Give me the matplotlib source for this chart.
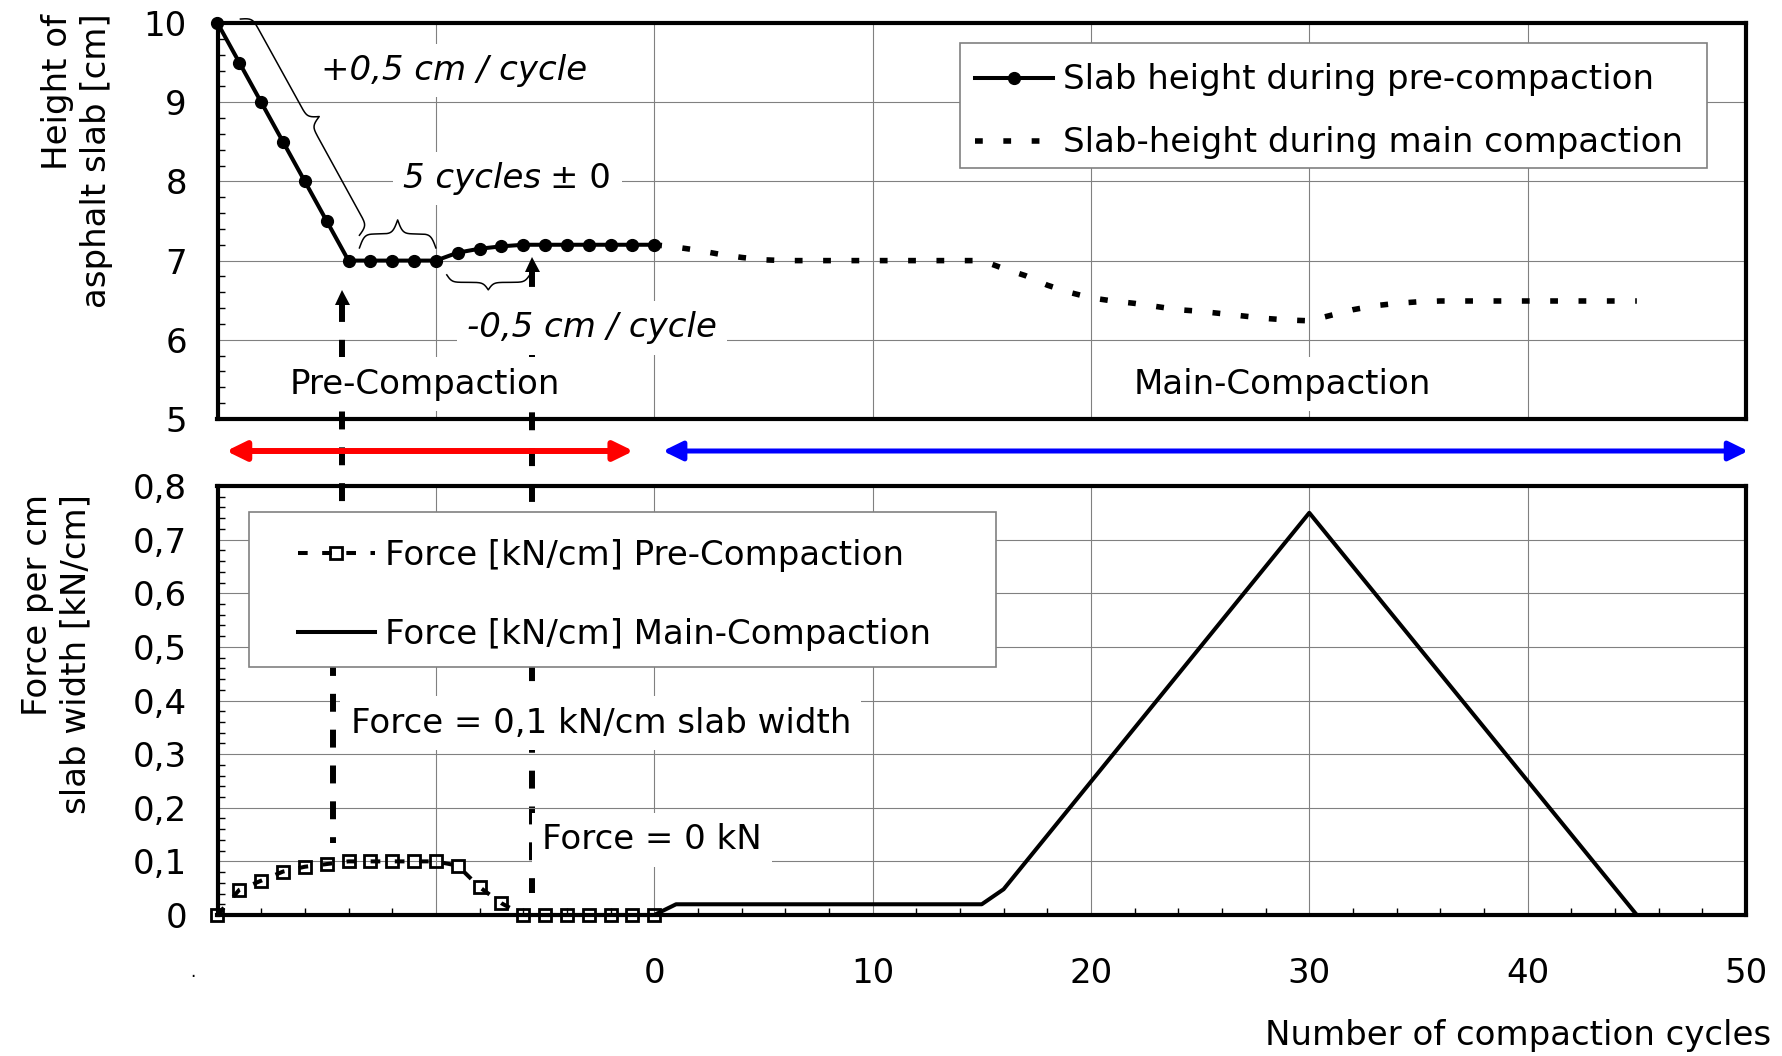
import matplotlib
matplotlib.use("Agg")
import matplotlib.pyplot as plt
import numpy as np
from matplotlib.patches import Rectangle
from matplotlib.ticker import MultipleLocator, FuncFormatter

# ---- values ----
PRE_CYCLES = list(range(-20, 1))
PRE_HEIGHT = [10.0, 9.5, 9.0, 8.5, 8.0, 7.5, 7.0, 7.0, 7.0, 7.0, 7.0,
              7.1, 7.15, 7.18, 7.2, 7.2, 7.2, 7.2, 7.2, 7.2, 7.2]
PRE_FORCE = [0.0, 0.047, 0.064, 0.081, 0.09, 0.095, 0.1, 0.1, 0.1, 0.1, 0.1,
             0.092, 0.052, 0.022, 0.0, 0.0, 0.0, 0.0, 0.0, 0.0, 0.0]

MAIN_CYCLES = list(range(0, 46))
MAIN_HEIGHT = [7.2, 7.17, 7.13, 7.08, 7.04, 7.01, 7.0, 7.0, 7.0, 7.0, 7.0, 7.0, 7.0, 7.0, 7.0, 7.0,
               6.9, 6.81, 6.69, 6.6, 6.53, 6.49, 6.46, 6.42, 6.38, 6.36, 6.33, 6.3, 6.27, 6.25, 6.24,
               6.31, 6.38, 6.43, 6.46, 6.48, 6.49, 6.49, 6.49, 6.49, 6.49, 6.49, 6.49, 6.49, 6.49, 6.49]
MAIN_FORCE_X = [0, 1, 15, 16, 30, 45]
MAIN_FORCE = [0.0, 0.02, 0.02, 0.048, 0.75, 0.0]

X_TICKS = list(range(-20, 51, 10))
H_TICKS = [5, 6, 7, 8, 9, 10]
F_TICKS = [0.0, 0.1, 0.2, 0.3, 0.4, 0.5, 0.6, 0.7, 0.8]

FS = 24.5
W, H = 1782, 1056
plt.rcParams.update({"font.family": "DejaVu Sans", "font.size": FS})


def fx(px):
    return px / W


def fy(py):
    return 1 - py / H


def brace(ax, p0, p1, depth, beta=0.4, lw=1.1):
    """curly brace between two data points, depth in pixels (left of p0->p1)"""
    a = ax.transData.transform(p0)
    b = ax.transData.transform(p1)
    v = b - a
    L = np.hypot(*v)
    u = v / L
    n = np.array([-u[1], u[0]])
    s = np.linspace(0, L / 2, 200)
    half = 1 / (1 + np.exp(-beta * s)) + 1 / (1 + np.exp(-beta * (s - L / 2))) - 0.5
    ss = np.concatenate([s, L - s[::-1][1:]])
    yy = np.concatenate([half, half[::-1][1:]])
    pts = a + np.outer(ss, u) + np.outer(depth * yy, n)
    d = ax.transData.inverted().transform(pts)
    ax.plot(d[:, 0], d[:, 1], color="black", lw=lw, clip_on=False, zorder=4)


def to_ax1_y(y2):
    disp = ax2.transData.transform((0, y2))
    return ax1.transData.inverted().transform(disp)[1]


fig = plt.figure(figsize=(W / 100, H / 100), dpi=100)
ax1 = fig.add_axes([fx(217.5), fy(419), fx(1746) - fx(217.5), fy(23) - fy(419)])
ax2 = fig.add_axes([fx(217.5), fy(915), fx(1746) - fx(217.5), fy(486) - fy(915)], facecolor="none")

for ax in (ax1, ax2):
    ax.set_xlim(-20, 50)
    ax.set_xticks(X_TICKS)
    ax.grid(True, which="major", color="#808080", lw=0.8, zorder=0)
    ax.set_axisbelow(True)
    for sp in ax.spines.values():
        sp.set_linewidth(3)
    ax.tick_params(which="major", length=0)
    ax.tick_params(axis="y", which="major", pad=22)
    ax.tick_params(which="minor", direction="in", length=5, width=1,
                   top=False, right=False)

ax1.set_ylim(5, 10)
ax1.set_yticks(H_TICKS)
ax1.yaxis.set_minor_locator(MultipleLocator(0.2))
ax1.tick_params(axis="x", labelbottom=False)

ax2.set_ylim(0, 0.8)
ax2.set_yticks(F_TICKS)
ax2.yaxis.set_minor_locator(MultipleLocator(0.02))
ax2.xaxis.set_minor_locator(MultipleLocator(2))
ax2.yaxis.set_major_formatter(FuncFormatter(lambda v, p: ("%g" % round(v, 2)).replace(".", ",")))
ax2.xaxis.set_major_formatter(FuncFormatter(lambda v, p: "" if v < 0 else "%d" % v))
ax2.tick_params(axis="x", which="major", pad=30)

# ---- slab height ----
l_pre, = ax1.plot(PRE_CYCLES, PRE_HEIGHT, color="black", lw=2.9, marker="o", ms=8.5,
                  mew=1, zorder=5, clip_on=False, label="Slab height during pre-compaction")
l_main, = ax1.plot(MAIN_CYCLES, MAIN_HEIGHT, color="black", lw=4.0, ls=(0, (1.4, 3.7)),
                   dash_capstyle="butt", zorder=5, label="Slab-height during main compaction")

# ---- force ----
f_pre, = ax2.plot(PRE_CYCLES, PRE_FORCE, color="black", lw=2.9, ls=(0, (2.4, 3.6)),
                  marker="s", ms=8, mfc="none", mec="black", mew=2, zorder=5, clip_on=False,
                  label="Force [kN/cm] Pre-Compaction")
f_main, = ax2.plot(MAIN_FORCE_X, MAIN_FORCE, color="black", lw=2.9, zorder=5,
                   label="Force [kN/cm] Main-Compaction")

# ---- dashed markers between the two panels ----
dash = dict(color="black", lw=4.3, ls=(0, (3, 3)), clip_on=False, zorder=2.5)
ax1.plot([-14.3, -14.3], [6.45, to_ax1_y(0.7)], **dash)
ax2.plot([-14.7, -14.7], [0.48, 0.134], **dash)
ax1.plot([-5.6, -5.6], [6.9, to_ax1_y(0.041)], **dash)
ax1.plot([-14.3], [6.535], marker="^", ms=10.8, color="black", mew=0, zorder=5, clip_on=False)
ax1.plot([-5.6], [6.955], marker="^", ms=10.8, color="black", mew=0, zorder=5, clip_on=False)

# ---- braces ----
brace(ax1, (-18.95, 10.05), (-13.5, 7.32), 22)
brace(ax1, (-13.5, 7.16), (-10.0, 7.16), 28)
brace(ax1, (-9.5, 6.82), (-5.7, 6.82), -15)

# ---- annotations ----
box = dict(boxstyle="square,pad=0.3", facecolor="white", edgecolor="none")
ax1.text(-15.28, 9.40, "+0,5 cm / cycle", style="italic", ha="left", va="center", bbox=box, zorder=6)
ax1.text(-11.49, 8.04, "5 cycles", style="italic", ha="left", va="center", bbox=box, zorder=6)
ax1.text(-4.75, 8.04, "± 0", ha="left", va="center", bbox=box, zorder=6)
ax1.text(-8.58, 6.15, "-0,5 cm / cycle", style="italic", ha="left", va="center", bbox=box, zorder=6)
ax1.text(-16.7, 5.44, "Pre-Compaction", ha="left", va="center", bbox=box, zorder=6)
ax1.text(21.97, 5.44, "Main-Compaction", ha="left", va="center", bbox=box, zorder=6)

ax2.text(-13.9, 0.358, "Force = 0,1 kN/cm slab width", ha="left", va="center", bbox=box, zorder=6)
ax2.text(-5.14, 0.14, "Force = 0 kN", ha="left", va="center", bbox=box, zorder=6)

# ---- phase arrows ----
ay = (915 - 451) / (915 - 486)
ax2.annotate("", xy=(-0.95, ay), xytext=(-19.6, ay), xycoords=("data", "axes fraction"),
             arrowprops=dict(arrowstyle="<|-|>,head_length=0.45,head_width=0.22", color="#ff0000",
                             lw=4.3, mutation_scale=26, shrinkA=0, shrinkB=0))
ax2.annotate("", xy=(50.1, ay), xytext=(0.4, ay), xycoords=("data", "axes fraction"),
             arrowprops=dict(arrowstyle="<|-|>,head_length=0.45,head_width=0.22", color="#0000ff",
                             lw=3.6, mutation_scale=26, shrinkA=0, shrinkB=0))

# ---- legends with plain frames ----
for ax, (x0, y0, x1, y1) in ((ax1, (960, 43, 1707, 168)), (ax2, (249, 512, 996, 667))):
    ax.add_patch(Rectangle((fx(x0), fy(y1)), fx(x1) - fx(x0), fy(y0) - fy(y1),
                           transform=fig.transFigure, facecolor="white", edgecolor="#808080",
                           lw=1.2, zorder=6, clip_on=False))
leg1 = ax1.legend(handles=[l_pre, l_main], loc="upper left", bbox_to_anchor=(fx(975), fy(63.5)),
                  bbox_transform=fig.transFigure, frameon=False, borderpad=0, borderaxespad=0,
                  handlelength=2.3, handletextpad=0.3, labelspacing=0.88, numpoints=1, fontsize=FS)
leg1.set_zorder(7)
leg2 = ax2.legend(handles=[f_pre, f_main], loc="upper left", bbox_to_anchor=(fx(298), fy(539)),
                  bbox_transform=fig.transFigure, frameon=False, borderpad=0, borderaxespad=0,
                  handlelength=2.26, handletextpad=0.3, labelspacing=1.34, numpoints=1, fontsize=FS)
leg2.set_zorder(7)

# ---- axis titles ----
fig.text(fx(77), fy(161), "Height of\nasphalt slab [cm]", rotation=90, ha="center", va="center",
         multialignment="right")
fig.text(fx(57), fy(654), "Force per cm\nslab width [kN/cm]", rotation=90, ha="center", va="center",
         multialignment="right")
fig.text(fx(1771), fy(1036), "Number of compaction cycles", ha="right", va="center")
fig.text(fx(193), fy(972), ".", ha="center", va="center", fontsize=12)

fig.savefig("out.png", dpi=100)
